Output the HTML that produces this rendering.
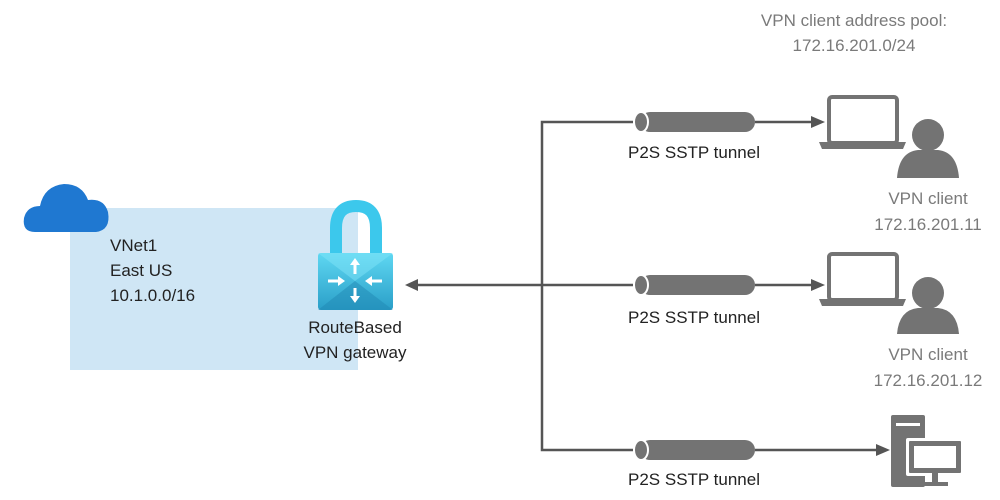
<!DOCTYPE html>
<html><head><style>body{margin:0;background:#fff}svg{display:block}text{font-family:"Liberation Sans",sans-serif}</style></head><body>
<svg width="1000" height="500" viewBox="0 0 1000 500">
<defs>
<linearGradient id="lk" x1="0" y1="0" x2="0" y2="1"><stop offset="0" stop-color="#5fd8f2"/><stop offset="1" stop-color="#2a9fc8"/></linearGradient>
</defs>
<rect x="70" y="208" width="288" height="162" fill="#cfe6f5"/>
<!-- cloud -->
<path d="M35 232 Q22 232 24 218 Q27 206 40 206 Q44 186 64 184 Q82 184 88 200 Q104 198 108 212 Q111 230 96 232 Z" fill="#1f78d1"/>
<text x="110" y="251" font-size="17" fill="#222">VNet1</text>
<text x="110" y="276" font-size="17" fill="#222">East US</text>
<text x="110" y="301" font-size="17" fill="#222">10.1.0.0/16</text>
<!-- lock -->
<path d="M336 256 V228 Q336 206 356 206 Q376 206 376 228 V256" fill="none" stroke="#3cc8ec" stroke-width="12"/>
<rect x="318" y="253" width="75" height="57" rx="3" fill="url(#lk)"/>
<path d="M318 253 L355 281 L393 253 Z" fill="#7fe3f7" opacity="0.5"/>
<path d="M318 310 L355 281 L393 310 Z" fill="#1f87b3" opacity="0.5"/>
<g stroke="#fff" stroke-width="3" fill="#fff">
<line x1="355" y1="262" x2="355" y2="274"/><line x1="355" y1="288" x2="355" y2="300"/>
<line x1="328" y1="281" x2="340" y2="281"/><line x1="370" y1="281" x2="382" y2="281"/>
</g>
<g fill="#fff"><path d="M350 265 L355 258 L360 265Z"/><path d="M350 296 L355 303 L360 296Z"/><path d="M338 276 L345 281 L338 286Z"/><path d="M372 276 L365 281 L372 286Z"/></g>
<text x="355" y="333" font-size="17" fill="#222" text-anchor="middle">RouteBased</text>
<text x="355" y="358" font-size="17" fill="#222" text-anchor="middle">VPN gateway</text>
<!-- connectors -->
<g stroke="#555" stroke-width="2.5" fill="none">
<line x1="412" y1="285" x2="633" y2="285"/>
<polyline points="633,122 542,122 542,450 633,450"/>
<line x1="755" y1="122" x2="812" y2="122"/>
<line x1="755" y1="285" x2="812" y2="285"/>
<line x1="755" y1="450" x2="878" y2="450"/>
</g>
<g fill="#555">
<path d="M405 285 L418 279 L418 291Z"/>
<path d="M825 122 L811 116 L811 128Z"/>
<path d="M825 285 L811 279 L811 291Z"/>
<path d="M890 450 L876 444 L876 456Z"/>
</g>
<!-- tunnels -->
<g fill="#737373">
<rect x="640" y="112" width="115" height="20" rx="10"/><ellipse cx="641" cy="122" rx="7" ry="10" stroke="#fff" stroke-width="2"/>
<rect x="640" y="275" width="115" height="20" rx="10"/><ellipse cx="641" cy="285" rx="7" ry="10" stroke="#fff" stroke-width="2"/>
<rect x="640" y="440" width="115" height="20" rx="10"/><ellipse cx="641" cy="450" rx="7" ry="10" stroke="#fff" stroke-width="2"/>
</g>
<g font-size="17" fill="#222" text-anchor="middle">
<text x="694" y="158">P2S SSTP tunnel</text>
<text x="694" y="323">P2S SSTP tunnel</text>
<text x="694" y="485">P2S SSTP tunnel</text>
</g>
<!-- laptops -->
<g fill="#737373">
<rect x="829" y="97" width="68" height="46" rx="3" fill="none" stroke="#737373" stroke-width="4"/>
<path d="M819 142 H906 L903 149 H822Z"/>
<rect x="829" y="254" width="68" height="46" rx="3" fill="none" stroke="#737373" stroke-width="4"/>
<path d="M819 299 H906 L903 306 H822Z"/>
<circle cx="928" cy="135" r="16"/><path d="M897 178 Q899 152 918 150 H938 Q957 152 959 178Z"/>
<circle cx="928" cy="293" r="16"/><path d="M897 334 Q899 310 918 308 H938 Q957 310 959 334Z"/>
<!-- desktop -->
<rect x="891" y="415" width="34" height="72" rx="2"/>
<rect x="906" y="438" width="58" height="38" rx="2" fill="#fff"/>
<rect x="909" y="441" width="52" height="32" rx="1"/>
<rect x="914" y="446" width="42" height="22" fill="#fff"/>
<rect x="932" y="473" width="6" height="10"/><rect x="922" y="482" width="26" height="4"/>
</g>
<rect x="896" y="423" width="24" height="3" fill="#fff"/>
<g font-size="17" fill="#7a7a7a" text-anchor="middle">
<text x="854" y="26">VPN client address pool:</text>
<text x="854" y="51">172.16.201.0/24</text>
<text x="928" y="204">VPN client</text>
<text x="928" y="230">172.16.201.11</text>
<text x="928" y="360">VPN client</text>
<text x="928" y="386">172.16.201.12</text>
</g>
</svg>
</body></html>
